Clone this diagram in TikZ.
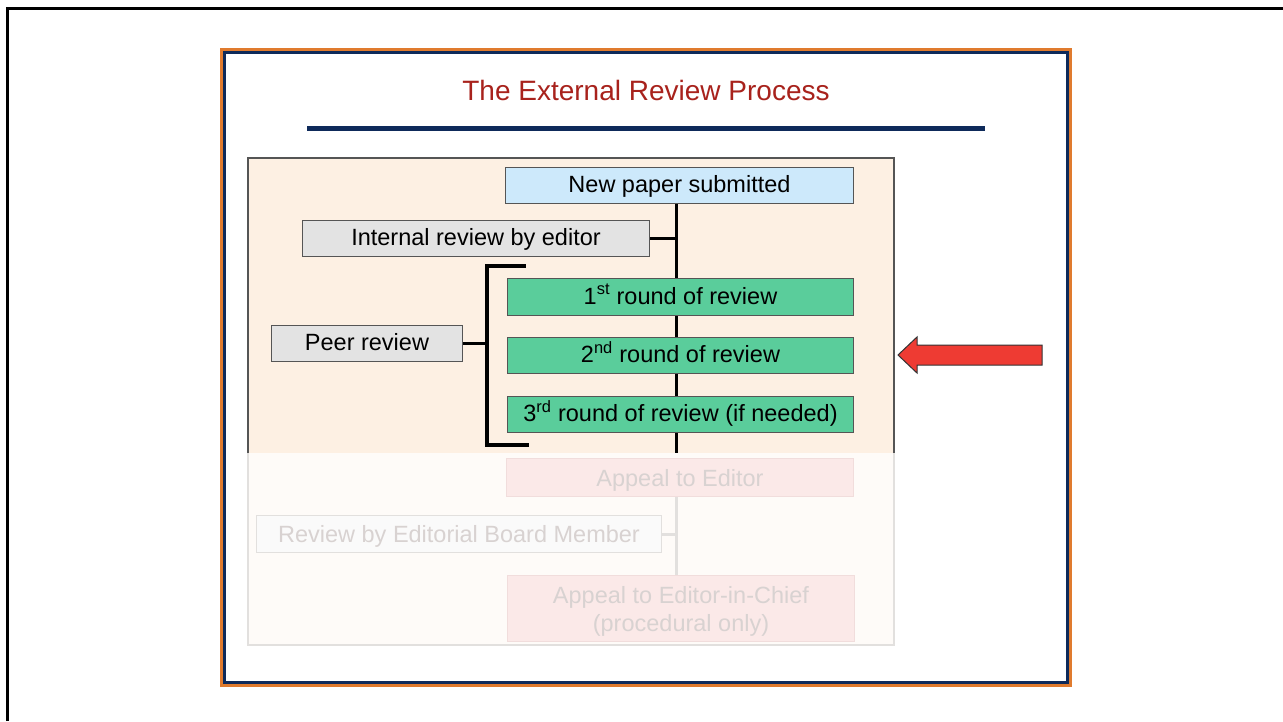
\documentclass[tikz,border=0pt]{standalone}
\usepackage{fontspec}
\setmainfont{Liberation Sans}
\definecolor{frameOrange}{HTML}{E07B2E}
\definecolor{frameNavy}{HTML}{0E2A5A}
\definecolor{titleRed}{HTML}{A8221C}
\definecolor{panelBeige}{HTML}{FDF0E3}
\definecolor{boxBlue}{HTML}{CDE9FB}
\definecolor{boxGray}{HTML}{E3E3E3}
\definecolor{boxGreen}{HTML}{5ACD9B}
\definecolor{boxBorder}{HTML}{555555}
\definecolor{fadeBg}{HTML}{FEFBF8}
\definecolor{fadeLine}{HTML}{E2E0DE}
\definecolor{fadePink}{HTML}{FBE9E8}
\definecolor{fadePinkBorder}{HTML}{F1DDDC}
\definecolor{fadeGrayFill}{HTML}{FAFAFA}
\definecolor{fadeText}{HTML}{D8D2D1}
\definecolor{arrowRed}{HTML}{EE3B33}
\begin{document}
\begin{tikzpicture}[x=1pt,y=-1pt,
  box/.style={draw=boxBorder, line width=1pt, inner sep=0pt, anchor=north west,
    font=\fontsize{23.5}{28}\selectfont, text=black, text height=17pt, text depth=3pt},
  fadebox/.style={draw=fadePinkBorder, fill=fadePink, line width=1pt, inner sep=0pt,
    anchor=north west, font=\fontsize{23.5}{28}\selectfont, text=fadeText, align=center,
    text depth=0pt},
  conn/.style={line width=3.5pt, draw=black},
  trunk/.style={line width=3pt, draw=black},
  fadeconn/.style={line width=3pt, draw=fadeLine}]
\useasboundingbox (0,0) rectangle (1283,721);
\fill[white] (0,0) rectangle (1283,721);
% outer black frame (left and top)
\draw[line width=3pt, black] (7,721) -- (7,8) -- (1283,8);
% slide frame
\draw[line width=3pt, frameOrange] (221.5,49.5) rectangle (1070.5,685.5);
\draw[line width=3pt, frameNavy] (224.5,52.5) rectangle (1067.5,682.5);
% title
\node[font=\fontsize{28}{32}\selectfont, text=titleRed] (title) at (646,90) {The External Review Process};
\draw[line width=5pt, frameNavy] (307,128) -- (985,128);
% panel
\fill[panelBeige] (248,158) rectangle (894,453);
\fill[fadeBg] (248,453) rectangle (894,645);
\draw[line width=1.3pt, fadeLine] (248,453) -- (248,645) -- (894,645) -- (894,453);
\draw[line width=1.3pt, boxBorder] (248,453) -- (248,158) -- (894,158) -- (894,453);
% nodes
\node[box, fill=boxBlue, minimum width=348pt, minimum height=36pt] (new) at (505,167) {New paper submitted};
\node[box, fill=boxGray, minimum width=347pt, minimum height=36pt] (internal) at (302,220) {Internal review by editor};
\node[box, fill=boxGreen, minimum width=346pt, minimum height=37pt] (r1) at (507,278) {1\textsuperscript{st} round of review};
\node[box, fill=boxGreen, minimum width=346pt, minimum height=36pt] (r2) at (507,337) {2\textsuperscript{nd} round of review};
\node[box, fill=boxGreen, minimum width=346pt, minimum height=36pt] (r3) at (507,396) {3\textsuperscript{rd} round of review (if needed)};
\node[box, fill=boxGray, minimum width=191pt, minimum height=36pt] (peer) at (271,325) {Peer review};
\node[fadebox, minimum width=347pt, minimum height=38pt, text height=17pt] (appeal) at (506,458) {Appeal to Editor};
\node[fadebox, draw=fadeLine, fill=fadeGrayFill, minimum width=405pt, minimum height=37pt, text height=17pt] (board) at (256,515) {Review by Editorial Board Member};
\node[fadebox, minimum width=347pt, minimum height=66pt] (chief) at (507,575) {Appeal to Editor-in-Chief\\(procedural only)};
% connectors
\coordinate (trunkend) at (676,453);
\coordinate (bt) at (487,266);
\coordinate (bb) at (487,445);
\draw[trunk] (new.south -| trunkend) -- (r1.north -| trunkend);
\draw[trunk] (r1.south -| trunkend) -- (r2.north -| trunkend);
\draw[trunk] (r2.south -| trunkend) -- (r3.north -| trunkend);
\draw[trunk] (r3.south -| trunkend) -- (trunkend);
\draw[conn] (internal.east) -- (internal.east -| trunkend);
\draw[conn, line cap=rect] (524,266) -- (bt) -- (bb) -- (527,445);
\draw[conn] (peer.east) -- (peer.east -| bt);
\draw[fadeconn] (appeal.south -| trunkend) -- (chief.north -| trunkend);
\draw[fadeconn] (board.east) -- (board.east -| trunkend);
% red arrow
\draw[fill=arrowRed, draw=black!80, line width=1pt, line join=miter]
  (898,355) -- (917,337) -- (917,345) -- (1042,345) -- (1042,365) -- (917,365) -- (917,373) -- cycle;
\end{tikzpicture}
\end{document}
